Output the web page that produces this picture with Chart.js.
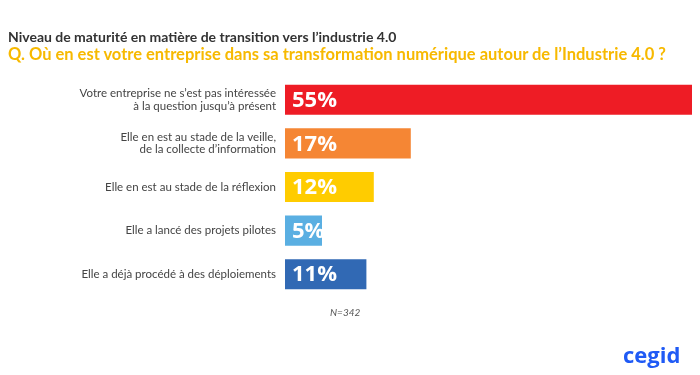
<!DOCTYPE html>
<html>
	<head>
		<meta charset="utf-8">
		<title>Niveau de maturité industrie 4.0</title>
		<script src="https://cdn.jsdelivr.net/npm/chart.js@4.4.0/dist/chart.umd.min.js"></script>
		<style>
			body { margin: 0; background: #fff; }
			#wrap { position: relative; width: 700px; height: 375px; overflow: hidden; font-family: Lato, "Open Sans", sans-serif; }
			#chart { position: absolute; left: 0; top: 0; }
			.txt { position: absolute; white-space: nowrap; }
			#titre { left: 8px; top: 28px; font-size: 14px; font-weight: bold; color: #333; }
			#question { left: 8px; top: 44px; font-size: 16.5px; font-weight: bold; color: #f7b900; }
			#effectif { left: 330px; top: 306px; font-size: 10px; font-style: italic; color: #555; }
			#logo { left: 623px; top: 339px; font-size: 22px; font-weight: bold; color: #1f5af5; font-family: "Open Sans", sans-serif; }
		</style>
	</head>
	<body>
		<div id="wrap">
			<canvas id="chart" width="700" height="375"></canvas>
			<div class="txt" id="titre">Niveau de maturité en matière de transition vers l’industrie 4.0</div>
			<div class="txt" id="question">Q. Où en est votre entreprise dans sa transformation numérique autour de l’Industrie 4.0 ?</div>
			<div class="txt" id="effectif">N=342</div>
			<div class="txt" id="logo">cegid</div>
		</div>
		<script>
			// données
			const categories = [
				["Votre entreprise ne s’est pas intéressée", "à la question jusqu’à présent"],
				["Elle en est au stade de la veille,", "de la collecte d’information"],
				"Elle en est au stade de la réflexion",
				"Elle a lancé des projets pilotes",
				"Elle a déjà procédé à des déploiements"
			];
			const valeurs = [55, 17, 12, 5, 11];
			const couleurs = ["#ee1c25", "#f58634", "#ffcc00", "#5aafe2", "#3169b4"];

			// étiquettes de valeur blanches au début des barres
			const etiquettes = {
				id: "etiquettes",
				afterDatasetsDraw(chart) {
					const ctx = chart.ctx;
					const meta = chart.getDatasetMeta(0);
					ctx.save();
					ctx.fillStyle = "#fff";
					ctx.font = "bold 22px 'Open Sans', sans-serif";
					ctx.textBaseline = "middle";
					ctx.textAlign = "left";
					meta.data.forEach((bar, i) => {
						ctx.fillText(valeurs[i] + "%", bar.base + 7, bar.y + 1);
					});
					ctx.restore();
				}
			};

			var chart = new Chart(document.getElementById("chart").getContext("2d"), {
				type: "bar",
				data: {
					labels: categories,
					datasets: [{
						data: valeurs,
						backgroundColor: couleurs,
						borderWidth: 0,
						barPercentage: 0.69,
						categoryPercentage: 1
					}]
				},
				options: {
					indexAxis: "y",
					responsive: false,
					animation: false,
					layout: { padding: { left: 0, right: 8, top: 78, bottom: 79 } },
					plugins: {
						legend: { display: false },
						tooltip: { enabled: false }
					},
					scales: {
						x: { display: false, min: 0, max: 55 },
						y: {
							afterFit(scale) { scale.width = 285; },
							grid: { display: false },
							border: { display: false },
							ticks: {
								padding: 1,
								color: "#444",
								font: { family: "Lato", size: 11.5, lineHeight: 1.05 }
							}
						}
					}
				},
				plugins: [etiquettes]
			});
		</script>
	</body>
</html>
